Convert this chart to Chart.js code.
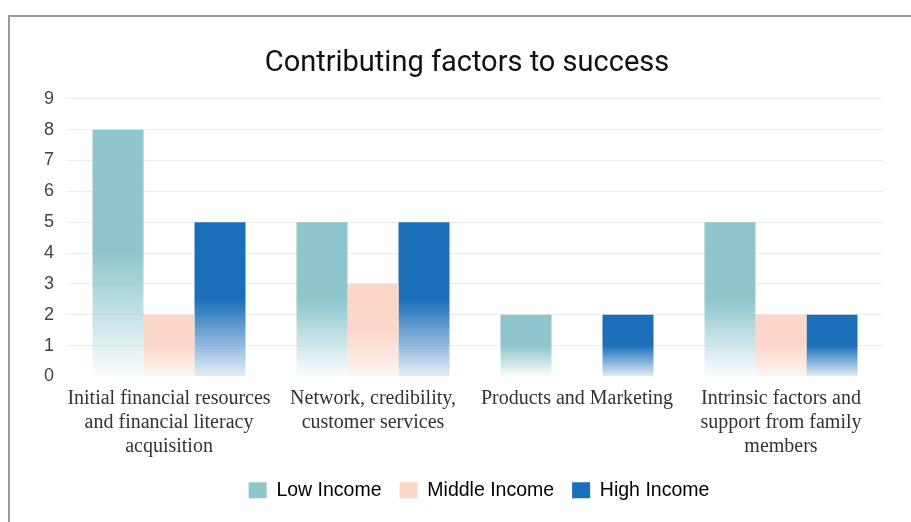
<!DOCTYPE html>
<html>
<head>
<meta charset="utf-8">
<script src="https://cdn.jsdelivr.net/npm/chart.js@4"></script>
<style>
  html, body { margin: 0; padding: 0; background: #fff; }
  #wrap { position: relative; width: 911px; height: 522px; overflow: hidden; }
  #frame {
    position: absolute; left: 8px; top: 15px; width: 920px; height: 520px;
    border-top: 2px solid #9a9a9a; border-left: 2px solid #9a9a9a;
  }
  canvas { position: absolute; left: 0; top: 0; }
</style>
</head>
<body>
<div id="wrap">
  <div id="frame"></div>
  <canvas id="factorsChart" width="911" height="522"></canvas>
</div>
<script>
const categories = [
  ["Initial financial resources", "and financial literacy", "acquisition"],
  ["Network, credibility,", "customer services"],
  ["Products and Marketing"],
  ["Intrinsic factors and", "support from family", "members"]
];
const seriesNames = ["Low Income", "Middle Income", "High Income"];
const lowIncome = [8, 5, 2, 5];
const middleIncome = [2, 3, 0, 2];
const highIncome = [5, 5, 2, 2];
const yTicks = [0, 1, 2, 3, 4, 5, 6, 7, 8, 9];

// top colour, faded colour at the base
const palette = [
  ["rgb(143,198,205)", "rgba(143,198,205,0.04)"],
  ["rgb(251,215,201)", "rgba(251,215,201,0.25)"],
  ["rgb(27,111,185)", "rgba(27,111,185,0.12)"]
];

// each bar gets its own vertical fade, from its top to the zero line
function barFill(idx) {
  return function (ctx) {
    const chart = ctx.chart;
    if (!chart.chartArea || ctx.type !== "data") return palette[idx][0];
    const y = chart.scales.y;
    const top = y.getPixelForValue(ctx.raw);
    const base = y.getPixelForValue(0);
    if (base - top < 1) return palette[idx][0];
    const g = chart.ctx.createLinearGradient(0, top, 0, base);
    g.addColorStop(0, palette[idx][0]);
    g.addColorStop(0.5, palette[idx][0]);
    g.addColorStop(1, palette[idx][1]);
    return g;
  };
}

// nudge title and legend: both sit right of the plain layout centre,
// and the legend tucks up closer under the category labels
const nudgeBoxes = {
  id: "nudgeBoxes",
  afterLayout(chart) {
    chart.titleBlock.left += 10;
    chart.titleBlock.right += 10;
    chart.legend.left += 22;
    chart.legend.right += 22;
    chart.legend.top -= 6;
    chart.legend.bottom -= 6;
  }
};

const seriesData = [lowIncome, middleIncome, highIncome];

new Chart(document.getElementById("factorsChart"), {
  type: "bar",
  data: {
    labels: categories,
    datasets: seriesData.map((d, i) => ({
      label: seriesNames[i],
      data: d,
      backgroundColor: barFill(i),
      borderWidth: 0,
      barPercentage: 1,
      categoryPercentage: 0.75
    }))
  },
  plugins: [nudgeBoxes],
  options: {
    responsive: false,
    animation: false,
    layout: { padding: { top: 46, left: 31, right: 28, bottom: 6 } },
    plugins: {
      title: {
        display: true,
        text: "Contributing factors to success",
        color: "#111",
        font: { family: "Roboto", size: 29, weight: "normal" },
        padding: { top: 0, bottom: 18 }
      },
      legend: {
        position: "bottom",
        labels: {
          generateLabels: chart => seriesNames.map((n, i) => ({
            text: n,
            fillStyle: palette[i][0],
            strokeStyle: palette[i][0],
            lineWidth: 0,
            datasetIndex: i
          })),
          boxWidth: 18,
          boxHeight: 16,
          padding: 18,
          color: "#444",
          font: { family: "Liberation Sans", size: 19.5 }
        }
      },
      tooltip: { enabled: false }
    },
    scales: {
      x: {
        grid: { display: false, drawTicks: false },
        border: { display: false },
        ticks: {
          color: "#333",
          font: { family: "Liberation Serif", size: 20, lineHeight: 1.2 },
          maxRotation: 0,
          autoSkip: false,
          padding: 10
        }
      },
      y: {
        min: 0,
        max: 9,
        afterBuildTicks: axis => { axis.ticks = yTicks.map(v => ({ value: v })); },
        grid: {
          color: c => c.tick && c.tick.value === 0 ? "rgba(0,0,0,0)" : "#ececec",
          drawTicks: false
        },
        border: { display: false },
        ticks: {
          color: "#444",
          font: { family: "Liberation Sans", size: 18 },
          padding: 13
        }
      }
    }
  }
});
</script>
</body>
</html>
